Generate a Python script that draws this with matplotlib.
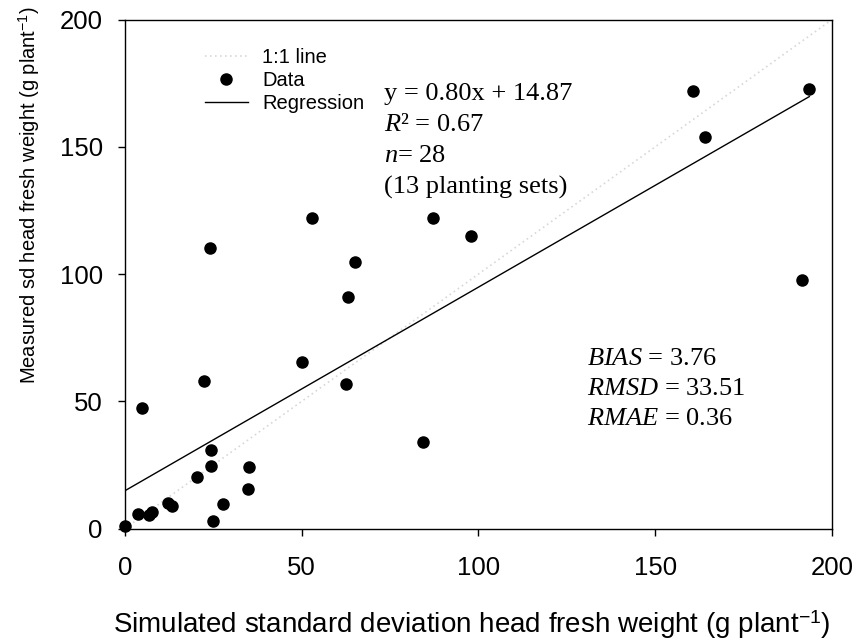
import matplotlib
matplotlib.use('Agg')
import matplotlib.pyplot as plt

# simulated sd (x) and measured sd (y) head fresh weight, g plant-1
sim_sd = [0.1, 3.6, 6.9, 7.7, 12.3, 13.2, 20.4, 24.4, 24.4, 24.8, 27.8, 35.0, 34.8, 4.7,
          22.3, 24.1, 50.0, 52.8, 62.6, 63.2, 65.1, 84.2, 87.0, 98.0, 160.7, 164.1, 193.6, 191.5]
meas_sd = [1.0, 5.6, 5.3, 6.6, 10.0, 8.7, 20.1, 30.9, 24.4, 2.8, 9.8, 24.1, 15.7, 47.3,
           57.8, 110.3, 65.3, 122.1, 56.7, 90.9, 104.7, 34.1, 122.1, 115.1, 171.9, 154.0, 172.9, 97.7]

slope = 0.80
intercept = 14.87
one_to_one = [0, 200]
reg_x = [0, max(sim_sd)]
reg_y = [intercept + slope * v for v in reg_x]

fit_lines = ['y = 0.80x + 14.87', r'$R$² = 0.67', r'$n$= 28', '(13 planting sets)']
stat_lines = [r'$BIAS$ = 3.76', r'$RMSD$ = 33.51', r'$RMAE$ = 0.36']

plt.rcParams['font.family'] = ['Liberation Sans', 'DejaVu Sans']
plt.rcParams['mathtext.fontset'] = 'custom'
plt.rcParams['mathtext.rm'] = 'Liberation Serif'
plt.rcParams['mathtext.it'] = 'Liberation Serif:italic'
plt.rcParams['mathtext.sf'] = 'Liberation Sans'

fig = plt.figure(figsize=(8.59, 6.43), dpi=100)
ax = fig.add_axes([0.1455, 0.178, 0.823, 0.7915])

ax.plot(one_to_one, one_to_one, linestyle=(0, (1, 2)), color='#d8d8d8', lw=1.2, label='1:1 line')
ax.plot(sim_sd, meas_sd, 'o', color='black', ms=8, label='Data', clip_on=False, zorder=3)
ax.plot(reg_x, reg_y, '-', color='black', lw=1.0, label='Regression')

ax.set_xlim(0, 200)
ax.set_ylim(0, 200)
ax.set_xticks([0, 50, 100, 150, 200])
ax.set_yticks([0, 50, 100, 150, 200])
ax.tick_params(direction='out', length=5, width=1, labelsize=18.5)
ax.tick_params(axis='x', pad=15)
ax.tick_params(axis='y', pad=11)
for s in ax.spines.values():
    s.set_linewidth(1.0)

ax.set_xlabel(r'Simulated standard deviation head fresh weight (g plant$^{\mathsf{-1}}$)', fontsize=20)
ax.xaxis.set_label_coords(0.49, -0.158)
ax.set_ylabel(r'Measured sd head fresh weight (g plant$^{\mathsf{-1}}$)', fontsize=14.5)
ax.yaxis.set_label_coords(-0.117, 0.655)

ax.legend(loc='upper left', bbox_to_anchor=(0.113, 0.945), frameon=False, fontsize=14.5,
          handlelength=2.14, handletextpad=0.7, labelspacing=0.22, borderaxespad=0, borderpad=0)

for i, t in enumerate(fit_lines):
    ax.text(0.366, 0.842 - i * 0.061, t, transform=ax.transAxes, fontsize=19,
            family='Liberation Serif', va='baseline', ha='left')
for i, t in enumerate(stat_lines):
    ax.text(0.653, 0.321 - i * 0.059, t, transform=ax.transAxes, fontsize=19,
            family='Liberation Serif', va='baseline', ha='left')

fig.savefig('out.png', dpi=100)
